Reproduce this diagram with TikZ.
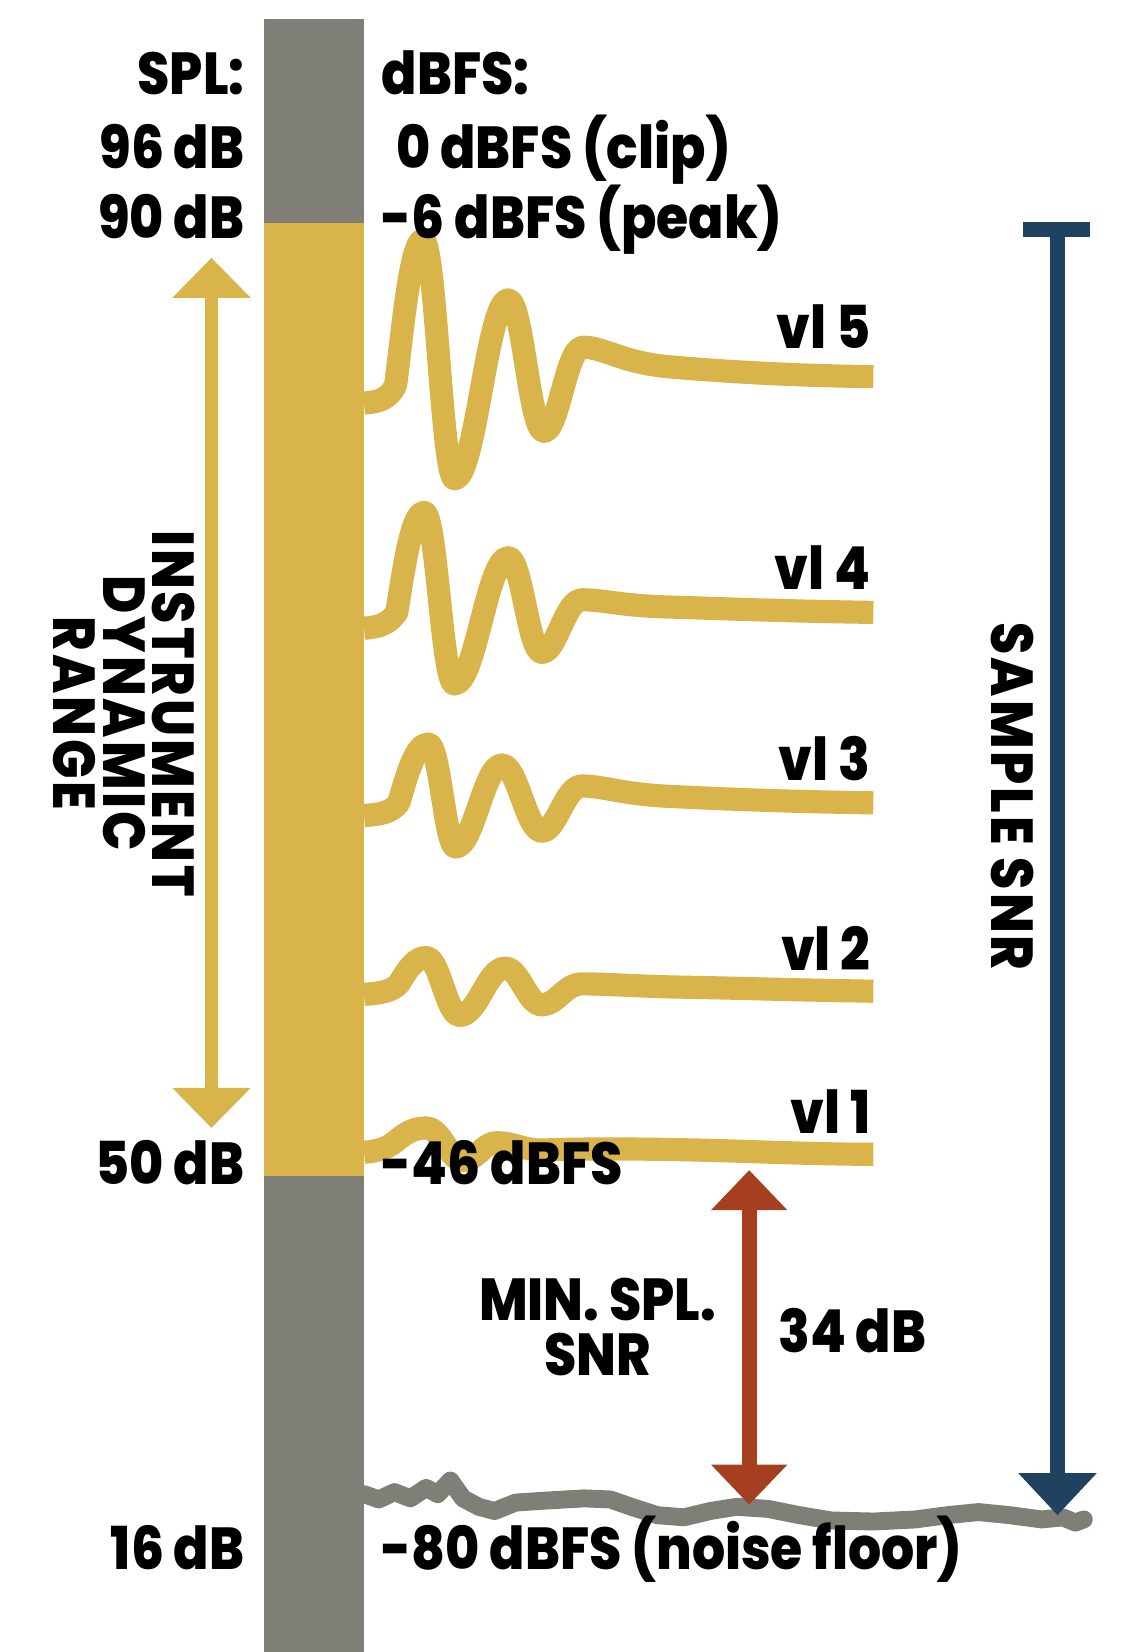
\documentclass[tikz,border=0pt]{standalone}
\usepackage{fontspec}
\setmainfont{Poppins}[FakeStretch=0.88, BoldFont={Poppins ExtraBold}]
\newfontfamily\trackfont{Poppins}[FakeStretch=0.88, LetterSpace=5, BoldFont={Poppins ExtraBold}]
\usetikzlibrary{arrows.meta,positioning}

\definecolor{barGray}{HTML}{807F77}
\definecolor{instGold}{HTML}{D8B44A}
\definecolor{snrRed}{HTML}{A53F1F}
\definecolor{snrBlue}{HTML}{1F4260}

\begin{document}
\begin{tikzpicture}
[
	              x = 0.01cm,
	              y = -0.01cm,
	    lbl/.style = { font=\bfseries\fontsize{16}{13.4}\selectfont, inner sep=0pt },
	   vlbl/.style = { font=\trackfont\bfseries\fontsize{16}{13.4}\selectfont, inner sep=0pt, rotate=-90 },
	   wave/.style = { draw=instGold, line width=0.22cm, line join=round },
	  noise/.style = { draw=barGray, line width=0.17cm, line join=round, line cap=round },
	 goldarr/.style = { draw=instGold, line width=0.12cm, {Triangle[width=0.72cm,length=0.38cm]}-{Triangle[width=0.72cm,length=0.38cm]} },
	  redarr/.style = { draw=snrRed, line width=0.14cm, {Triangle[width=0.70cm,length=0.38cm]}-{Triangle[width=0.70cm,length=0.38cm]} },
	 bluearr/.style = { draw=snrBlue, line width=0.14cm, -{Triangle[width=0.72cm,length=0.40cm]} }
]
	\useasboundingbox (0,0) rectangle (1091,1570);

	% level bar
	\fill [barGray]  (251,18)  rectangle (346,1570);
	\fill [instGold] (251,212) rectangle (346,1118);

	% velocity layers
	\draw [wave] (346,383) .. controls (362,382) and (370,378) .. (376,366)
		.. controls (382,320) and (390,228) .. (402,228)
		.. controls (414,228) and (420,455) .. (432,455)
		.. controls (452,455) and (463,285) .. (483,285)
		.. controls (497,285) and (503,410) .. (517,410)
		.. controls (531,410) and (538,330) .. (554,330)
		.. controls (575,330) and (590,345) .. (640,349)
		.. controls (700,354) and (760,357) .. (830,358);
	\draw [wave] (346,597) .. controls (362,596) and (370,592) .. (377,582)
		.. controls (384,540) and (391,487) .. (403,487)
		.. controls (415,487) and (420,650) .. (432,650)
		.. controls (452,650) and (463,530) .. (483,530)
		.. controls (496,530) and (502,620) .. (515,620)
		.. controls (529,620) and (537,570) .. (553,570)
		.. controls (575,570) and (590,576) .. (640,577)
		.. controls (700,579) and (760,581) .. (830,582);
	\draw [wave] (346,775) .. controls (362,774) and (372,772) .. (379,763)
		.. controls (387,735) and (395,707) .. (407,707)
		.. controls (418,707) and (423,805) .. (433,805)
		.. controls (450,805) and (460,727) .. (477,727)
		.. controls (492,727) and (500,790) .. (515,790)
		.. controls (529,790) and (537,747) .. (553,747)
		.. controls (575,747) and (590,755) .. (640,757)
		.. controls (700,760) and (760,762) .. (830,763);
	\draw [wave] (346,945) .. controls (362,944) and (372,942) .. (379,935)
		.. controls (388,920) and (395,910) .. (405,910)
		.. controls (418,910) and (424,965) .. (437,965)
		.. controls (454,965) and (463,920) .. (480,920)
		.. controls (494,920) and (501,955) .. (515,955)
		.. controls (529,955) and (537,935) .. (553,935)
		.. controls (575,935) and (600,937) .. (640,938)
		.. controls (700,939) and (760,941) .. (830,942);
	\draw [wave] (346,1095) .. controls (362,1094) and (370,1090) .. (378,1083)
		.. controls (388,1075) and (395,1072) .. (405,1072)
		.. controls (420,1072) and (426,1103) .. (440,1103)
		.. controls (453,1103) and (459,1086) .. (472,1086)
		.. controls (488,1086) and (498,1093) .. (515,1093)
		.. controls (560,1091) and (640,1092) .. (700,1094)
		.. controls (760,1096) and (800,1097) .. (830,1097);

	% noise floor
	\draw [noise] plot coordinates {(346,1420) (360,1425) (375,1418) (390,1424) (405,1414) (416,1420) (428,1407) (440,1424) (455,1432) (470,1436) (490,1428) (520,1426) (555,1424) (580,1425) (600,1432) (625,1440) (650,1442) (675,1436) (700,1432) (730,1434) (760,1440) (790,1445) (830,1446) (870,1444) (900,1440) (930,1437) (960,1440) (990,1444) (1010,1442) (1022,1447) (1030,1444)};

	% arrow ends
	\coordinate (instTop) at (201,245);
	\coordinate (instBot) at (201,1072);
	\coordinate (minTop)  at (712,1112);
	\coordinate (minBot)  at (712,1430);
	\coordinate (snrTop)  at (1005,218);
	\coordinate (snrBot)  at (1005,1440);
	\coordinate (capL)    at (972,218);
	\coordinate (capR)    at (1036,218);

	% arrows
	\draw [goldarr] (instTop) -- (instBot);
	\draw [redarr]  (minTop) -- (minBot);
	\draw [bluearr] (snrTop) -- (snrBot);
	\draw [snrBlue, line width=0.14cm] (capL) -- (capR);

	% SPL column
	\node (splHead) at (233,90)   [lbl, anchor=base east] {SPL:};
	\node (spl96)   at (233,160)  [lbl, anchor=base east] {96 dB};
	\node (spl90)   at (233,227)  [lbl, anchor=base east] {90 dB};
	\node (spl50)   at (233,1126) [lbl, anchor=base east] {50 dB};
	\node (spl16)   at (233,1492) [lbl, anchor=base east] {16 dB};

	% dBFS column
	\node (fsHead)  at (362,90)   [lbl, anchor=base west] {dBFS:};
	\node (fsClip)  at (376,160)  [lbl, anchor=base west] {0 dBFS (clip)};
	\node (fsPeak)  at (362,227)  [lbl, anchor=base west] {-6 dBFS (peak)};
	\node (fsMin)   at (362,1126) [lbl, anchor=base west] {-46 dBFS};
	\node (fsFloor) at (362,1492) [lbl, anchor=base west] {-80 dBFS (noise floor)};

	% layer labels
	\node (vl5) at (828,331)  [lbl, anchor=base east] {vl 5};
	\node (vl4) at (828,560)  [lbl, anchor=base east] {vl 4};
	\node (vl3) at (828,742)  [lbl, anchor=base east] {vl 3};
	\node (vl2) at (828,922)  [lbl, anchor=base east] {vl 2};
	\node (vl1) at (828,1077) [lbl, anchor=base east] {vl 1};

	% range labels
	\node (instLbl) at (118,678)  [vlbl, align=center] {INSTRUMENT\\DYNAMIC\\RANGE};
	\node (snrLbl)  at (962,757)  [vlbl] {SAMPLE SNR};
	\node (minLbl)  at (568,1255) [lbl, anchor=base] {MIN. SPL.};
	\node (minLblB) at (568,1307) [lbl, anchor=base] {SNR};
	\node (minVal)  at (810,1285) [lbl, anchor=base] {34 dB};

\end{tikzpicture}
\end{document}
